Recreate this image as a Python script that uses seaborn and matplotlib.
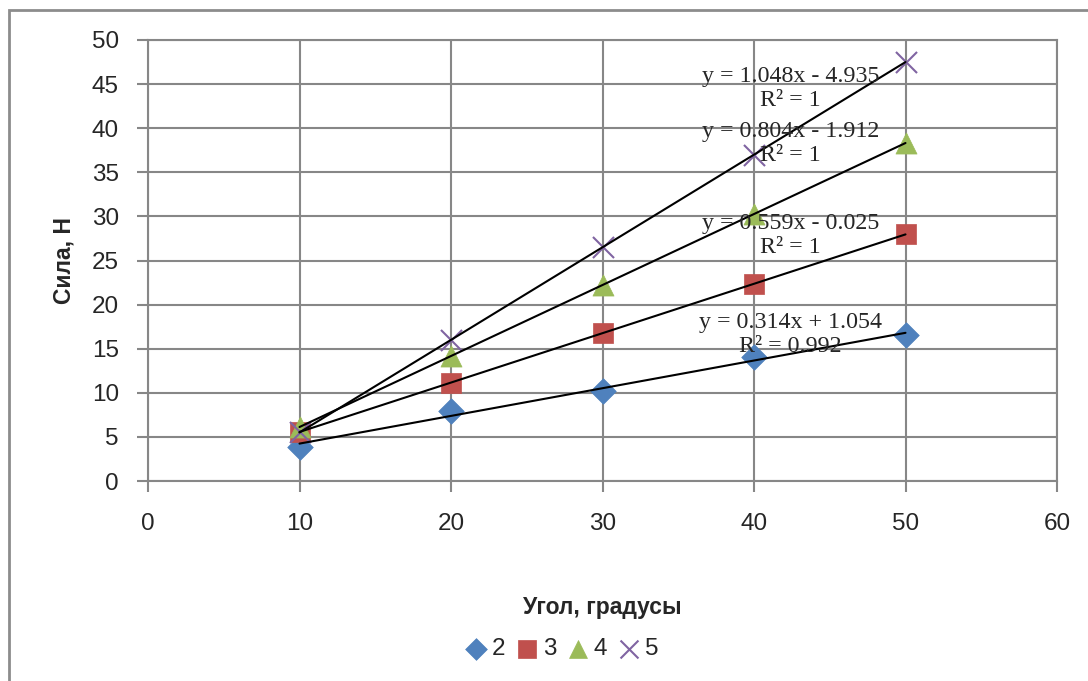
import numpy as np
import pandas as pd
import matplotlib
matplotlib.use("Agg")
import matplotlib.pyplot as plt
import seaborn as sns
from matplotlib.patches import Rectangle

# data
angle = [10, 20, 30, 40, 50]
force_2 = [3.9, 7.9, 10.2, 14.1, 16.5]
force_3 = [5.6, 11.1, 16.8, 22.3, 28.0]
force_4 = [6.1, 14.2, 22.2, 30.3, 38.3]
force_5 = [5.5, 16.0, 26.5, 37.0, 47.5]
series_names = ["2", "3", "4", "5"]
eq_texts = ["y = 0.314x + 1.054\nR² = 0.992",
            "y = 0.559x - 0.025\nR² = 1",
            "y = 0.804x - 1.912\nR² = 1",
            "y = 1.048x - 4.935\nR² = 1"]
eq_pos = [(42.4, 16.6), (42.4, 27.8), (42.4, 38.3), (42.4, 44.5)]

colors = {"2": "#4F81BD", "3": "#C0504D", "4": "#9BBB59", "5": "#8064A2"}
markers = {"2": "D", "3": "s", "4": "^", "5": "x"}
sizes = {"2": 170, "3": 210, "4": 230, "5": 230}

df = pd.DataFrame({
    "Угол": angle * 4,
    "Сила": force_2 + force_3 + force_4 + force_5,
    "serie": [s for s in series_names for _ in angle],
})

sns.set_style("white")
plt.rcParams["font.family"] = ["Liberation Sans", "DejaVu Sans"]

fig = plt.figure(figsize=(10.88, 6.81), dpi=100)
ax = fig.add_axes([148 / 1088, 1 - 481 / 681, (1057 - 148) / 1088, (481 - 40) / 681])

grid_c = "#878787"
ax.set_xlim(0, 60)
ax.set_ylim(0, 50)
ax.set_xticks(range(0, 61, 10))
ax.set_yticks(range(0, 51, 5))
ax.grid(True, color=grid_c, lw=1.5)
ax.set_axisbelow(True)
for sp in ax.spines.values():
    sp.set_color(grid_c)
    sp.set_linewidth(1.5)
ax.tick_params(axis="both", direction="out", length=8, width=1.5, color=grid_c,
               labelsize=17.5, left=True, bottom=True)
ax.tick_params(axis="x", pad=15)
ax.tick_params(axis="y", pad=13)

# trend lines
for s in series_names:
    sub = df[df["serie"] == s]
    sns.regplot(data=sub, x="Угол", y="Сила", ax=ax, scatter=False, ci=None,
                truncate=True, color="black", line_kws={"lw": 1.5, "zorder": 3})

# markers
for s in series_names:
    sub = df[df["serie"] == s]
    if s == "5":
        sns.scatterplot(data=sub, x="Угол", y="Сила", ax=ax, marker="x", s=sizes[s],
                        color=colors[s], linewidth=1.5, zorder=2, label=s)
    else:
        sns.scatterplot(data=sub, x="Угол", y="Сила", ax=ax, marker=markers[s], s=sizes[s],
                        color=colors[s], edgecolor=colors[s], linewidth=0.5, zorder=2, label=s)

for txt, (x, y) in zip(eq_texts, eq_pos):
    ax.text(x, y, txt, ha="center", va="center", fontsize=17.3, linespacing=1.18,
            family=["Liberation Serif", "DejaVu Serif"], zorder=4)

ax.set_xlabel("Угол, градусы", fontsize=16.5, fontweight="bold", labelpad=44)
ax.set_ylabel("Сила, Н", fontsize=16.5, fontweight="bold", labelpad=12)

ax.legend(loc="center", bbox_to_anchor=(558 / 1088, 1 - 649 / 681),
          bbox_transform=fig.transFigure, ncol=4, frameon=False, fontsize=17.5,
          handletextpad=-0.1, columnspacing=0.15, handlelength=1.5, markerscale=0.85)

# outer chart frame
fig.patches.append(Rectangle((9 / 1088, -0.1), 1.2, 1 - 10 / 681 + 0.1,
                             transform=fig.transFigure, fill=False,
                             edgecolor="#8c8c8c", lw=2))

fig.savefig("out.png", dpi=100)
